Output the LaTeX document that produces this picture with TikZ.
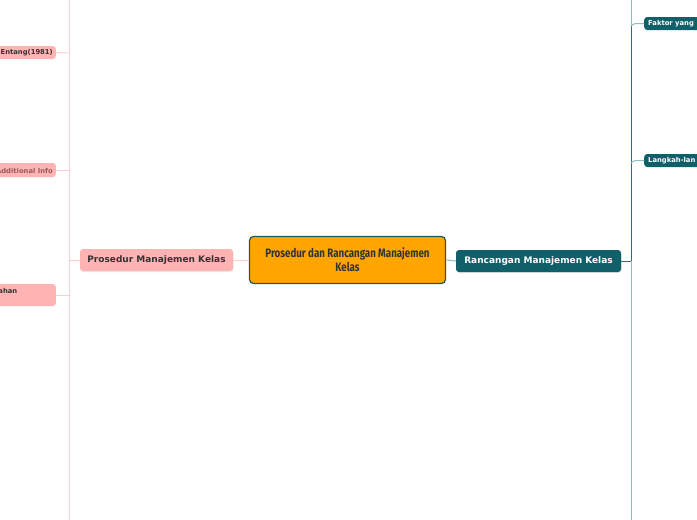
\documentclass[tikz,border=0pt]{standalone}
\usepackage{fontspec}
\setmainfont{DejaVu Sans}
\newfontfamily\condfont[FakeStretch=0.8]{Fira Sans}
\usetikzlibrary{shadows}
\definecolor{pinkfill}{HTML}{FFB3B3}
\definecolor{pinkline}{HTML}{FFCFCF}
\definecolor{darktext}{HTML}{333333}
\definecolor{tealfill}{HTML}{10606A}
\definecolor{tealline}{HTML}{2E7078}
\definecolor{teallight}{HTML}{8DBFC3}
\definecolor{orangefill}{HTML}{FFA500}
\definecolor{centerborder}{HTML}{1D5A5E}
\definecolor{infotext}{HTML}{9A5A5A}
\tikzset{
  x=1pt, y=-1pt,
  pinkbox/.style={fill=pinkfill, rounded corners=3pt, draw=none},
  tealbox/.style={fill=tealfill, rounded corners=3pt, draw=none},
  smalltxt/.style={font=\fontsize{6.8}{7}\selectfont\bfseries, text=darktext, inner sep=0pt},
  tealsmalltxt/.style={font=\fontsize{6.8}{7}\selectfont\bfseries, text=white, inner sep=0pt},
  pinkconn/.style={draw=pinkline, line width=0.9pt},
  tealconn/.style={draw=tealline, line width=1pt},
  teallightconn/.style={draw=teallight, line width=1pt},
}
\begin{document}
\begin{tikzpicture}
\useasboundingbox (0,0) rectangle (697,520);
\clip (0,0) rectangle (697,520);
\fill[white] (0,0) rectangle (697,520);
% left spine
\coordinate (ltop) at (69,0);
\coordinate (lbot) at (69,520);
\draw[pinkconn] (ltop) -- (lbot);
% right spine
\coordinate (rtop) at (631,0);
\coordinate (rbot) at (631,520);
\coordinate (rmid) at (631,261);
\coordinate (rfak) at (631,26);
\draw[teallightconn] (rtop) -- (rfak);
\draw[tealconn] (rfak) -- (rmid);
\draw[teallightconn] (rmid) -- (rbot);

% left leaf boxes
\node[pinkbox, minimum width=90pt, minimum height=13pt, anchor=east] (entang) at (56,52.5) {};
\node[smalltxt, anchor=east] (entangt) at (53,53) {Entang(1981)};
\node[pinkbox, minimum width=90pt, minimum height=14pt, anchor=east] (addinfo) at (56,170) {};
\node[smalltxt, text=infotext, anchor=east] (addinfot) at (53,170.5) {Additional Info};
\node[pinkbox, minimum width=90pt, minimum height=22pt, anchor=east] (ahan) at (56,295) {};
\node[smalltxt, anchor=east] (ahant) at (17.5,291) {ahan};

\coordinate (lj1) at (69,53);
\coordinate (lj2) at (69,170);
\coordinate (lj3) at (69,295);
\draw[pinkconn] (entang.east) -- (lj1);
\draw[pinkconn] (addinfo.east) -- (lj2);
\draw[pinkconn] (ahan.east) -- (lj3);

% Prosedur node
\node[pinkbox, drop shadow={opacity=0.15, shadow xshift=0.5pt, shadow yshift=-1pt}, minimum width=153pt, minimum height=22pt,
      font=\fontsize{9}{10}\selectfont\bfseries, text=darktext] (pros) at (156.5,260) {Prosedur Manajemen Kelas};
\coordinate (lj0) at (69,260);
\draw[pinkconn] (pros.west) -- (lj0);

% center
\node[fill=orangefill, draw=centerborder, line width=1.2pt, rounded corners=4pt,
      minimum width=196pt, minimum height=47pt, align=center,
      font=\condfont\bfseries\fontsize{12.2}{14}\selectfont, text=darktext] (center) at (347.5,260)
      {Prosedur dan Rancangan Manajemen\\Kelas};
\draw[pinkconn] (center.west) -- (pros.east);

% Rancangan node
\node[tealbox, drop shadow={opacity=0.2, shadow xshift=0.5pt, shadow yshift=-1pt}, minimum width=165pt, minimum height=22pt,
      font=\fontsize{9}{10}\selectfont\bfseries, text=white] (ranc) at (538.5,261) {Rancangan Manajemen Kelas};
\draw[teallightconn] (center.east) -- (ranc.west);
\draw[tealconn] (ranc.east) -- (rmid);

% right leaves
\node[tealbox, minimum width=80pt, minimum height=13pt, anchor=west] (faktor) at (644,23.5) {};
\node[tealsmalltxt, anchor=west] (faktort) at (648,23.5) {Faktor yang};
\node[tealbox, minimum width=80pt, minimum height=13pt, anchor=west] (langkah) at (644,160.5) {};
\node[tealsmalltxt, anchor=west] (langkaht) at (648,160.5) {Langkah-lan};

\draw[teallightconn, rounded corners=3pt] (rfak) -- (633,23.5) -- (faktor.west);
\coordinate (rlang) at (631,163);
\draw[teallightconn, rounded corners=3pt] (rlang) -- (633,160.5) -- (langkah.west);
\end{tikzpicture}
\end{document}
